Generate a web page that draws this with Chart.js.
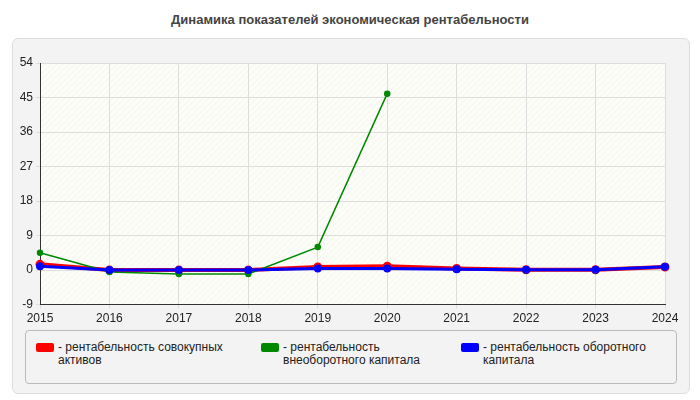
<!DOCTYPE html><html><head><meta charset="utf-8">
<script src="https://cdn.jsdelivr.net/npm/chart.js@4/dist/chart.umd.min.js"></script>
<style>body{margin:0;background:#fff;font-family:Arial,"Liberation Sans",sans-serif}
#t{position:absolute;left:0;top:12px;width:700px;text-align:center;font-weight:bold;font-size:13px;color:#444}
#f{position:absolute;left:12px;top:38px;width:676px;height:354px;background:#f3f3f3;border:1px solid #ddd;border-radius:6px}
#c{position:absolute;left:0;top:40px}
#lg{position:absolute;left:25px;top:330px;width:650px;height:52px;border:1px solid #bbb;border-radius:4px;background:#f3f3f3;font-size:12px;color:#222}
.it{position:absolute;top:10px;line-height:13px}
.sw{position:absolute;left:0;top:2px;width:18px;height:9px;border-radius:2px}
.tx{position:absolute;left:22px}
</style></head><body>
<div id="t">Динамика показателей экономическая рентабельности</div>
<div id="f"></div>
<canvas id="c" width="700" height="289"></canvas>
<div id="lg">
<div class="it" style="left:10px"><div class="sw" style="background:#f00"></div><div class="tx" style="width:190px">- рентабельность совокупных активов</div></div>
<div class="it" style="left:235px"><div class="sw" style="background:#080"></div><div class="tx" style="width:165px">- рентабельность внеоборотного капитала</div></div>
<div class="it" style="left:435px"><div class="sw" style="background:#00f"></div><div class="tx" style="width:190px">- рентабельность оборотного капитала</div></div>
</div>
<script>
const years=["2015","2016","2017","2018","2019","2020","2021","2022","2023","2024"];
const totalAssets=[1.5,0,0,0,0.8,1.0,0.4,0.1,0.1,0.8];
const fixedCapital=[4.5,-0.5,-1.0,-1.0,6,46,null,null,null,null];
const workingCapital=[1.0,0,0,0,0.4,0.4,0.2,0.1,0.1,0.9];
const bg={id:'bg',beforeDraw(ch){const a=ch.chartArea,x=ch.ctx;x.save();x.fillStyle='#fdfdf8';x.fillRect(a.left,a.top,a.width,a.height);
x.beginPath();x.rect(a.left,a.top,a.width,a.height);x.clip();x.strokeStyle='rgba(0,0,0,0.035)';x.lineWidth=1;
for(let i=-a.height;i<a.width;i+=6){x.beginPath();x.moveTo(a.left+i,a.bottom);x.lineTo(a.left+i+a.height,a.top);x.stroke();}x.restore();}};
const ds=(d,c,w)=>({data:d,borderColor:c,backgroundColor:c,borderWidth:w,pointRadius:2.5,pointHoverRadius:2.5,tension:0,spanGaps:false});
new Chart(document.getElementById('c'),{type:'line',plugins:[bg],
data:{labels:years,datasets:[ds(workingCapital,'#00f',3),ds(fixedCapital,'#080',1.5),ds(totalAssets,'#f00',4)]},
options:{responsive:false,animation:false,layout:{padding:{left:0,right:35,top:23,bottom:0}},
plugins:{legend:{display:false},tooltip:{enabled:false}},
scales:{x:{offset:false,grid:{color:'#ddd',borderDash:[4,4],drawTicks:true,tickLength:4},border:{color:'#333'},ticks:{color:'#222',font:{size:12},maxRotation:0}},
y:{min:-9,max:54,afterBuildTicks(s){s.ticks=[-9,0,9,18,27,36,45,54].map(v=>({value:v}));},
grid:{color:'#ddd',borderDash:[4,4],tickLength:4},border:{color:'#333'},ticks:{color:'#222',font:{size:12}},afterFit(s){s.width=40;}}}}});
</script></body></html>
